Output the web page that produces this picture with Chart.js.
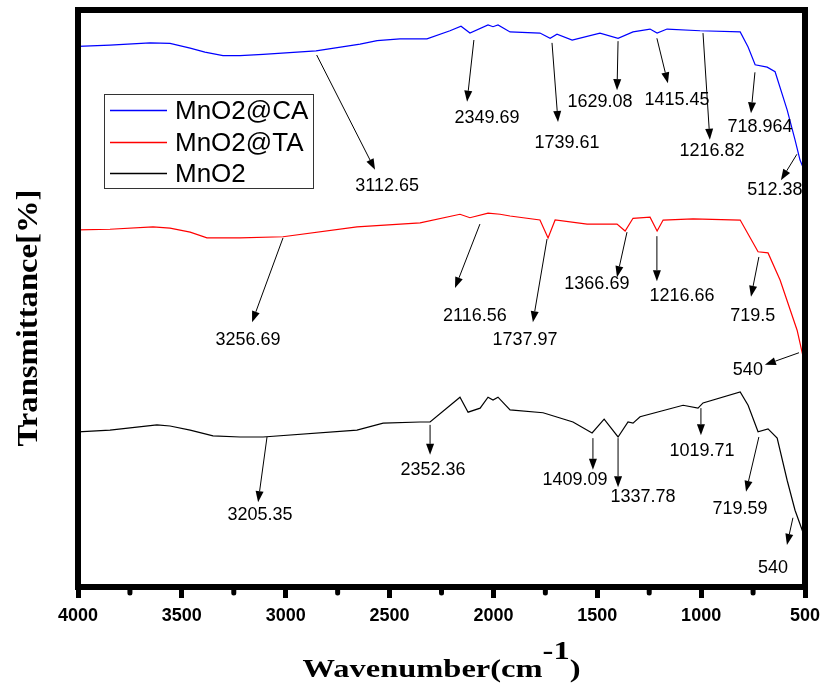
<!DOCTYPE html>
<html><head><meta charset="utf-8">
<script src="https://cdn.jsdelivr.net/npm/chart.js@4"></script>
<style>html,body{margin:0;padding:0;background:#fff}</style>
</head><body>
<canvas id="c" width="825" height="688"></canvas>
<script>
// ---- data (x: wavenumber cm-1, y: transmittance, arbitrary offset units) ----
const seriesNames = ['MnO2@CA', 'MnO2@TA', 'MnO2'];
const seriesColors = ['#0000ff', '#ff0000', '#000000'];

const caWn = [4000,3846,3653,3557,3460,3389,3302,3220,3109,2854,2642,2560,2450,2320,2209,2156,2113,2026,2002,1978,1920,1776,1727,1694,1621,1487,1400,1328,1246,1212,1164,1005,812,774,740,682,644,586,548,524,500];
const caT  = [93.7,93.9,94.3,94.2,93.4,92.7,92.1,92.1,92.3,92.9,94.1,94.7,95.0,95.0,96.4,97.2,96.0,97.4,97.1,97.4,96.2,96.0,95.1,95.8,94.8,96.0,95.1,96.2,96.7,96.0,96.7,96.4,96.2,93.6,90.5,90.1,89.3,82.7,77.5,74.0,71.9];

const taWn = [4000,3846,3639,3557,3460,3379,3220,3013,2657,2353,2161,2113,2026,1968,1920,1776,1737,1703,1549,1405,1366,1328,1246,1212,1183,1039,812,726,678,620,538,509,500];
const taT  = [61.9,62.0,62.4,62.2,61.5,60.5,60.5,60.7,62.4,63.1,64.6,64.0,64.8,64.6,64.3,63.6,60.5,63.6,62.9,62.9,61.7,63.9,64.1,61.7,63.6,63.8,63.6,58.1,57.9,53.2,44.5,39.9,39.3];

const mnWn = [4000,3846,3620,3557,3460,3350,3220,3109,2657,2531,2353,2305,2161,2122,2064,2026,2002,1978,1920,1761,1617,1525,1467,1400,1352,1328,1294,1087,1015,991,812,774,726,678,634,586,548,509,500];
const mnT  = [26.9,27.2,28.1,27.9,27.2,26.2,26.0,26.0,27.2,28.4,28.6,28.6,32.9,30.3,31.0,32.9,32.4,32.9,30.7,30.2,28.6,26.7,29.1,26.0,28.6,28.4,29.5,31.5,31.0,31.9,33.8,31.5,26.9,27.4,25.8,18.5,13.3,9.4,8.1];

const xTicks = [4000,3500,3000,2500,2000,1500,1000,500];
const xMinorTicks = [3750,3250,2750,2250,1750,1250,750];

// peak annotations: [label, tailX, tailY, headX, headY, labelX, labelY] in data units
const caPeaks = [
  ['3112.65', 2851,92.2, 2570,72.3, 2512,69.5],
  ['2349.69', 2094,94.8, 2127,84.1, 2031,81.3],
  ['1739.61', 1718,94.3, 1689,80.6, 1646,76.9],
  ['1629.08', 1400,94.6, 1405,86.1, 1487,84.1],
  ['1415.45', 1213,95.1, 1160,87.3, 1116,84.4],
  ['1216.82', 991,96.0, 958,77.5, 948,75.6],
  ['718.964', 741,89.2, 760,82.1, 717,79.7],
  ['512.38', 539,75.0, 616,70.5, 645,68.8]
];
const taPeaks = [
  ['3256.69', 3013,60.5, 3162,45.9, 3182,42.8],
  ['2116.56', 2065,62.9, 2185,51.8, 2089,47.0],
  ['1737.97', 1742,60.3, 1810,45.9, 1848,42.8],
  ['1366.69', 1357,61.5, 1405,53.7, 1502,52.5],
  ['1216.66', 1213,60.8, 1213,53.0, 1092,50.4],
  ['719.5', 722,57.2, 760,50.3, 751,47.0],
  ['540', 529,40.6, 693,38.5, 775,37.6]
];
const mnPeaks = [
  ['3205.35', 3090,26.0, 3133,14.7, 3124,12.5],
  ['2352.36', 2305,28.1, 2305,22.9, 2291,20.3],
  ['1409.09', 1521,25.8, 1521,20.3, 1607,18.5],
  ['1337.78', 1400,25.8, 1400,17.3, 1280,15.6],
  ['1019.71', 1001,31.0, 1001,26.3, 996,23.6],
  ['719.59', 722,26.0, 784,16.5, 813,13.5],
  ['540', 558,12.0, 587,7.3, 654,3.3]
];

const yTitle = 'Transmittance[%]';
const xTitleParts = ['Wavenumber(cm', '-1', ')'];

const toPts = (xs, ys) => xs.map((v, i) => ({x: v, y: ys[i]}));
const allPeaks = caPeaks.concat(taPeaks, mnPeaks);

const overlay = {
  id: 'overlay',
  afterDatasetsDraw(chart) {
    const {ctx, chartArea: a, scales: {x, y}} = chart;
    ctx.save();
    // arrows and peak labels
    ctx.strokeStyle = '#000'; ctx.fillStyle = '#000'; ctx.lineWidth = 1;
    ctx.font = '18px "Liberation Sans", Arial, sans-serif';
    ctx.textAlign = 'center'; ctx.textBaseline = 'middle';
    allPeaks.forEach(p => {
      const x1 = x.getPixelForValue(p[1]), y1 = y.getPixelForValue(p[2]);
      const x2 = x.getPixelForValue(p[3]), y2 = y.getPixelForValue(p[4]);
      const ang = Math.atan2(y2 - y1, x2 - x1), L = 11, W = 4;
      const bx = x2 - L * Math.cos(ang), by = y2 - L * Math.sin(ang);
      ctx.beginPath(); ctx.moveTo(x1, y1); ctx.lineTo(bx, by); ctx.stroke();
      ctx.beginPath(); ctx.moveTo(x2, y2);
      ctx.lineTo(bx + W * Math.sin(ang), by - W * Math.cos(ang));
      ctx.lineTo(bx - W * Math.sin(ang), by + W * Math.cos(ang));
      ctx.closePath(); ctx.fill();
      ctx.fillText(p[0], x.getPixelForValue(p[5]), y.getPixelForValue(p[6]));
    });
    // minor ticks
    ctx.lineWidth = 5; ctx.lineCap = 'round';
    xMinorTicks.forEach(v => {
      const px = x.getPixelForValue(v);
      ctx.beginPath(); ctx.moveTo(px, a.bottom); ctx.lineTo(px, a.bottom + 6); ctx.stroke();
    });
    ctx.lineCap = 'butt';
    // frame
    ctx.lineWidth = 6;
    ctx.strokeRect(a.left, a.top, a.right - a.left, a.bottom - a.top);
    // legend
    const lx = 104, ly = 94, lw = 209, lh = 94;
    ctx.lineWidth = 1; ctx.strokeStyle = '#333';
    ctx.strokeRect(lx + 0.5, ly + 0.5, lw, lh);
    ctx.font = '26px "Liberation Sans", Arial, sans-serif';
    ctx.textAlign = 'left'; ctx.textBaseline = 'middle';
    chart.data.datasets.forEach((ds, i) => {
      const yy = Math.round(ly + 16 + i * 31.5) + 0.5;
      ctx.strokeStyle = seriesColors[i]; ctx.lineWidth = 1.3;
      ctx.beginPath(); ctx.moveTo(lx + 6, yy); ctx.lineTo(lx + 63, yy); ctx.stroke();
      ctx.fillStyle = '#000';
      ctx.fillText(ds.label, lx + 71, yy + 1);
    });
    // y axis title (rotated)
    ctx.save();
    ctx.fillStyle = '#000';
    ctx.font = 'bold 30px "Liberation Serif", "Times New Roman", serif';
    ctx.textAlign = 'center'; ctx.textBaseline = 'middle';
    const wy = ctx.measureText(yTitle).width;
    ctx.translate(29, 318);
    ctx.rotate(-Math.PI / 2);
    ctx.scale(257 / wy, 1);
    ctx.fillText(yTitle, 0, 0);
    ctx.restore();
    // x axis title with superscript
    const sx = 1.3;
    ctx.fillStyle = '#000';
    ctx.textBaseline = 'alphabetic'; ctx.textAlign = 'left';
    ctx.font = 'bold 25px "Liberation Serif", "Times New Roman", serif';
    const [t1, t2, t3] = xTitleParts;
    const w1 = ctx.measureText(t1).width, w2 = ctx.measureText(t2).width, w3 = ctx.measureText(t3).width;
    const total = (w1 + w2 + w3) * sx;
    const cx = (a.left + a.right) / 2;
    const base = 677;
    ctx.translate(cx - total / 2, 0);
    ctx.scale(sx, 1);
    ctx.fillText(t1, 0, base);
    ctx.fillText(t2, w1, base - 18);
    ctx.fillText(t3, w1 + w2, base);
    ctx.restore();
  }
};

new Chart(document.getElementById('c'), {
  type: 'line',
  data: {
    datasets: [
      {label: seriesNames[0], data: toPts(caWn, caT), borderColor: seriesColors[0], borderWidth: 1.2, pointRadius: 0, tension: 0},
      {label: seriesNames[1], data: toPts(taWn, taT), borderColor: seriesColors[1], borderWidth: 1.2, pointRadius: 0, tension: 0},
      {label: seriesNames[2], data: toPts(mnWn, mnT), borderColor: seriesColors[2], borderWidth: 1.2, pointRadius: 0, tension: 0}
    ]
  },
  options: {
    responsive: false,
    animation: false,
    devicePixelRatio: 1,
    layout: {padding: {top: 10, right: 20, left: 0, bottom: 0}},
    plugins: {legend: {display: false}, tooltip: {enabled: false}},
    scales: {
      x: {
        type: 'linear', reverse: true, min: 500, max: 4000,
        afterBuildTicks: s => { s.ticks = xTicks.map(v => ({value: v})); },
        afterFit: s => { s.height = 101; s.paddingLeft = 0; s.paddingRight = 0; },
        border: {display: false},
        grid: {drawOnChartArea: false, drawTicks: true, tickLength: 11, tickWidth: 5, tickColor: '#000'},
        ticks: {padding: 7, color: '#000', maxRotation: 0, autoSkip: false,
                callback: v => String(v),
                font: {family: '"Liberation Sans", Arial, sans-serif', size: 18, weight: 'bold'}},
        title: {display: false}
      },
      y: {
        min: 0, max: 100,
        afterFit: s => { s.width = 78; },
        border: {display: false},
        grid: {display: false},
        ticks: {display: false},
        title: {display: false}
      }
    }
  },
  plugins: [overlay]
});
</script>
</body></html>
